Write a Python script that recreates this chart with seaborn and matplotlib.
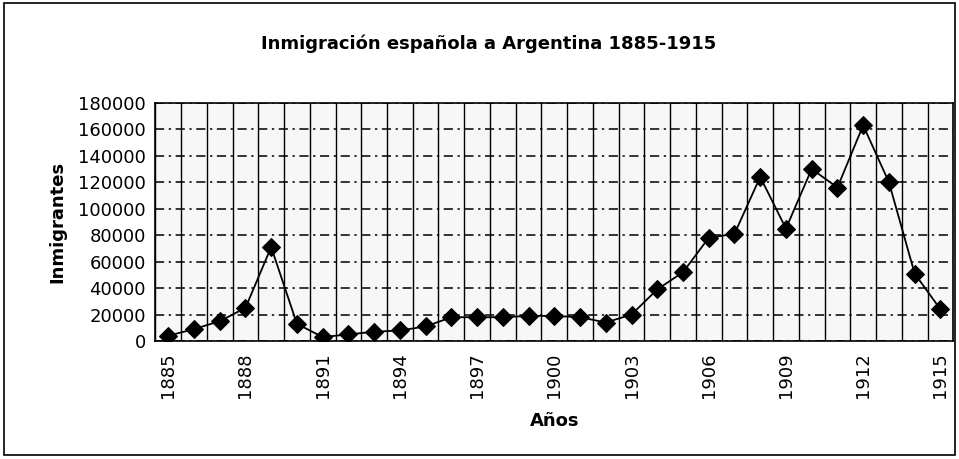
import matplotlib

matplotlib.use("Agg")

import matplotlib.pyplot as plt
import numpy as np
import pandas as pd
import seaborn as sns
from matplotlib.patches import Rectangle
from matplotlib.ticker import FixedLocator

# Immigration of Spaniards to Argentina, per year.
years = list(range(1885, 1916))
immigrants = [
    4000, 9000, 15000, 25000, 71000, 13000, 3000, 5000, 7000, 8000,
    11000, 18000, 18000, 18000, 19000, 19000, 18000, 14000, 20000, 39000,
    52000, 78000, 81000, 124000, 85000, 130000, 116000, 163000, 120000, 51000,
    24000,
]
labelled_years = years[::3]
y_ticks = list(range(0, 180001, 20000))

TITLE = "Inmigración española a Argentina 1885-1915"
X_LABEL = "Años"
Y_LABEL = "Inmigrantes"

sns.set_theme(style="white")
plt.rcParams["font.family"] = ["DejaVu Sans"]
plt.rcParams.update({
    "text.color": "black",
    "axes.labelcolor": "black",
    "xtick.color": "black",
    "ytick.color": "black",
})

df = pd.DataFrame({"year": years, "immigrants": immigrants})

fig = plt.figure(figsize=(9.59, 4.59), dpi=100)
ax = fig.add_axes([0.162, 0.257, 0.832, 0.519])

sns.lineplot(
    data=df,
    x="year",
    y="immigrants",
    color="black",
    linewidth=1.3,
    marker="D",
    markersize=9.5,
    markerfacecolor="black",
    markeredgecolor="black",
    ax=ax,
    zorder=3,
)

ax.set_xlim(years[0] - 0.5, years[-1] + 0.5)
ax.set_ylim(0, 180000)

# Excel-style category axis: ticks / grid between categories, labels every 3rd year.
ax.xaxis.set_minor_locator(FixedLocator(np.arange(years[0] - 0.5, years[-1] + 1.0, 1.0)))
ax.set_xticks(labelled_years)
ax.set_xticklabels([str(y) for y in labelled_years], rotation=90, fontsize=13)
ax.tick_params(axis="x", which="major", length=0, pad=8)
ax.tick_params(axis="x", which="minor", length=5, width=1, color="black", direction="out")
ax.grid(axis="x", which="minor", color="black", linewidth=1.0, linestyle="-")

ax.set_yticks(y_ticks)
ax.set_yticklabels([str(v) for v in y_ticks], fontsize=13)
ax.tick_params(axis="y", length=5, width=1, color="black", direction="out", pad=2)
ax.grid(axis="y", which="major", color="black", linewidth=1.1, linestyle=(0, (6, 3, 1.5, 3)))

for spine in ax.spines.values():
    spine.set_color("black")
    spine.set_linewidth(1.2)

ax.set_facecolor("#f7f7f7")
ax.set_xlabel(X_LABEL, fontsize=13, fontweight="bold", labelpad=10)
ax.set_ylabel(Y_LABEL, fontsize=13, fontweight="bold", labelpad=8)
fig.text(0.51, 0.905, TITLE, ha="center", va="center", fontsize=13, fontweight="bold")

fig.patches.append(
    Rectangle((0.004, 0.008), 0.992, 0.986, transform=fig.transFigure,
              fill=False, edgecolor="black", linewidth=1.2)
)

fig.savefig("out.png", dpi=100)
plt.close(fig)
